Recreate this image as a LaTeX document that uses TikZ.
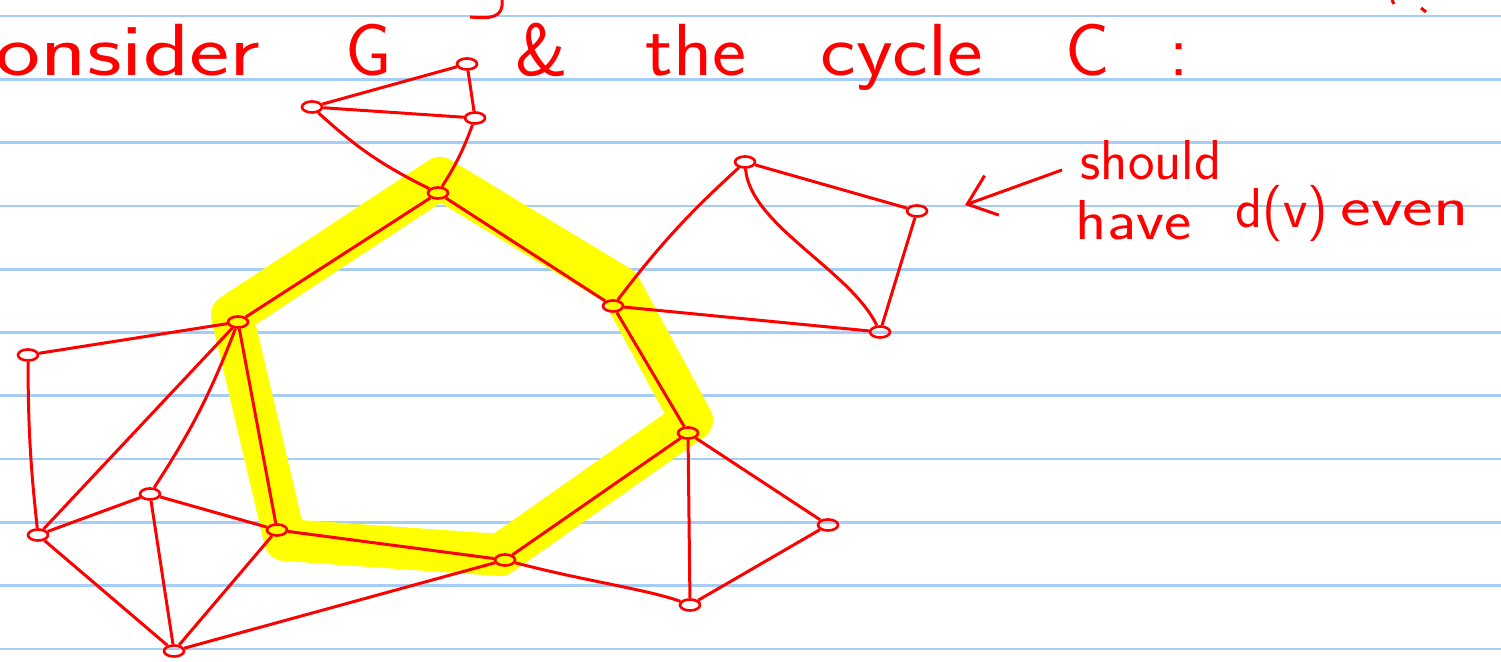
\documentclass[tikz,border=0pt]{standalone}
\usepackage{graphicx}
\usetikzlibrary{arrows.meta,shapes.geometric}
\definecolor{ink}{RGB}{255,0,0}
\definecolor{ruleblue}{RGB}{165,205,245}
\definecolor{marker}{RGB}{255,255,0}

\begin{document}
\begin{tikzpicture}[x=0.01cm, y=-0.01cm,
  rule/.style={ruleblue, line width=0.75pt},
  hl/.style={marker, line width=0.42cm, line join=round},
  vtx/.style={ellipse, draw=ink, line width=0.75pt, minimum width=0.2cm,
    minimum height=0.11cm, inner sep=0pt},
  edge/.style={ink, line width=0.85pt},
  hand/.style={ink, font=\sffamily\fontsize{21}{24}\selectfont, anchor=base west, inner sep=0pt},
  note/.style={hand, font=\sffamily\fontsize{16}{19}\selectfont},
  arr/.style={edge, -{Straight Barb[length=2.6mm, width=4.2mm]}}
]
\useasboundingbox (0,0) rectangle (1501,662);
\fill[white] (0,0) rectangle (1501,662);

% ruled paper
\foreach \i in {0,...,10}
  \draw[rule] (0,16+63.3*\i) -- (1501,16+63.3*\i);

% highlighted cycle C
\draw[hl] (232,315) -- (440,178) -- (620,287) -- (692,420) -- (500,555)
  -- (285,540) -- cycle;

% heading
\node[hand] (consider) at (-5,76) {\scalebox{1.3}[1]{onsider}};
\node[hand] (gname) at (345,76) {G};
\node[hand] (amp) at (515,76) {\&};
\node[hand] (the) at (645,76) {\scalebox{1.1}[1]{the}};
\node[hand] (cycle) at (820,76) {\scalebox{1.15}[1]{cycle}};
\node[hand] (cname) at (1065,76) {C\hspace{0.8em}:};
\draw[edge] (502,0) .. controls (504,18) and (490,19) .. (470,17);
\draw[edge] (1392,0) -- (1394,4);
\draw[edge] (1421,8) -- (1426,12);

% vertices
\node[vtx] (tl) at (312,107) {};
\node[vtx] (tr) at (467,64) {};
\node[vtx] (tm) at (475,118) {};
\node[vtx] (c1) at (438,193) {};
\node[vtx] (c2) at (613,306) {};
\node[vtx] (c3) at (688,433) {};
\node[vtx] (c4) at (505,560) {};
\node[vtx] (c5) at (277,530) {};
\node[vtx] (c6) at (238,322) {};
\node[vtx] (p) at (745,162) {};
\node[vtx] (q) at (917,211) {};
\node[vtx] (r) at (880,332) {};
\node[vtx] (s) at (828,525) {};
\node[vtx] (t) at (690,605) {};
\node[vtx] (la) at (28,355) {};
\node[vtx] (lb) at (38,535) {};
\node[vtx] (lc) at (150,494) {};
\node[vtx] (ld) at (174,651) {};

% edges
\draw[edge] (tl) -- (tr);
\draw[edge] (tl) -- (tm);
\draw[edge] (tr) -- (tm);
\draw[edge] (tl) to[bend right=8] (c1);
\draw[edge] (tm) to[bend left=6] (c1);
\draw[edge] (c1) -- (c2) -- (c3) -- (c4) -- (c5) -- (c6) -- (c1);
\draw[edge] (c2) to[bend left=5] (p);
\draw[edge] (p) -- (q);
\draw[edge] (q) -- (r);
\draw[edge] (p) .. controls (750,225) and (850,270) .. (r);
\draw[edge] (c2) -- (r);
\draw[edge] (c3) -- (s);
\draw[edge] (s) -- (t);
\draw[edge] (c3) -- (t);
\draw[edge] (c4) .. controls (580,580) and (650,590) .. (t);
\draw[edge] (la) -- (c6);
\draw[edge] (la) to[bend right=3] (lb);
\draw[edge] (lb) -- (c6);
\draw[edge] (lb) -- (lc);
\draw[edge] (lb) -- (ld);
\draw[edge] (lc) to[bend right=6] (c6);
\draw[edge] (lc) -- (c5);
\draw[edge] (lc) -- (ld);
\draw[edge] (ld) -- (c5);
\draw[edge] (ld) -- (c4);

% note
\node[note] (should) at (1080,180) {should};
\node[note] (have) at (1075,240) {\scalebox{1.15}[1]{have}};
\node[note] (dv) at (1235,228) {d(v)};
\node[note] (even) at (1340,226) {\scalebox{1.3}[1]{even}};
\coordinate (tipq) at (965,205);
\coordinate (tail) at (1062,170);
\draw[arr] (tail) -- (tipq);
\end{tikzpicture}
\end{document}
